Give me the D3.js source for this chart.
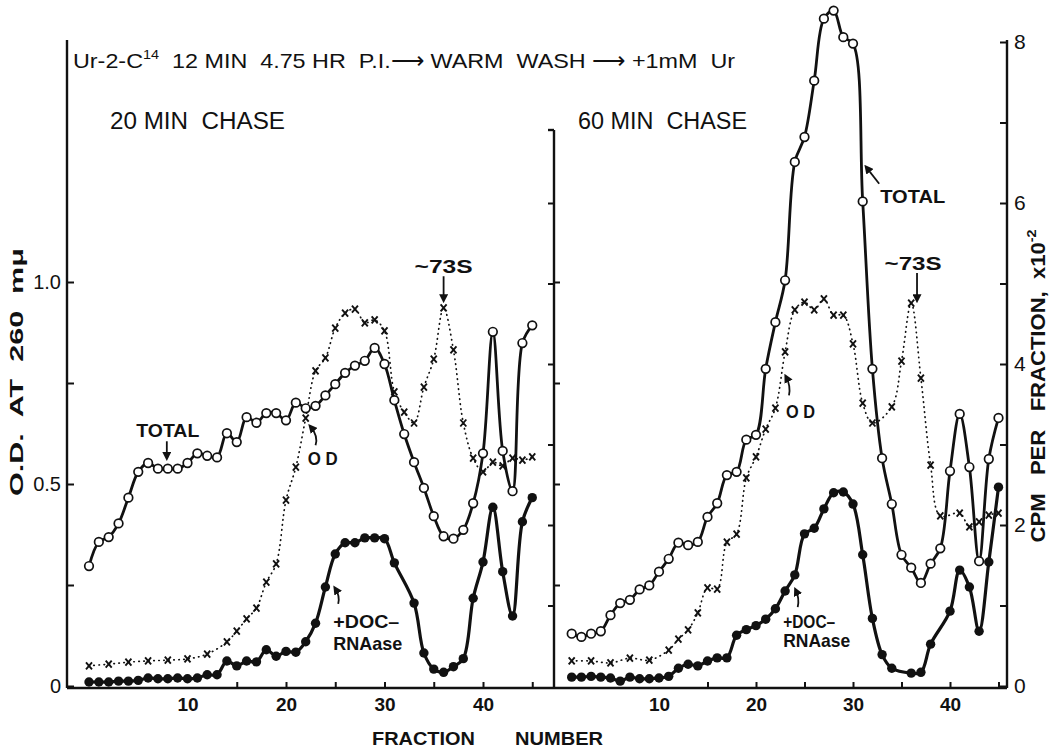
<!DOCTYPE html>
<html>
<head>
<meta charset="utf-8">
<script src="https://cdn.jsdelivr.net/npm/d3@7"></script>
<style>
body { margin: 0; background: #fff; }
svg text { font-family: "Liberation Sans", Arial, sans-serif; fill: #111; }
</style>
</head>
<body>
<svg id="chart" width="1056" height="750"></svg>
<script>
// ---- data (CPM x10^-2 for TOTAL / +DOC-RNAase, O.D. for OD) ----
var leftTotalFrac = [0,1,2,3,4,5,6,7,8,9,10,11,12,13,14,15,16,17,18,19,20,21,22,23,24,25,26,27,28,29,30,31,32,33,34,35,36,37,38,39,40,41,42,43,44,45];
var leftTotal = [1.49,1.79,1.85,2.02,2.34,2.66,2.77,2.70,2.70,2.70,2.77,2.89,2.86,2.84,3.14,3.03,3.34,3.27,3.39,3.39,3.30,3.52,3.45,3.48,3.61,3.75,3.89,3.98,4.04,4.20,4.00,3.55,3.13,2.78,2.46,2.11,1.86,1.83,1.94,2.27,2.89,4.40,2.92,2.42,4.26,4.48];

var leftOdFrac = [0,2,4,6,8,10,12,14,15,16,17,18,19,20,21,22,23,24,25,26,27,28,29,30,31,32,33,34,35,36,37,38,39,40,41,42,43,44,45];
var leftOd = [0.05,0.054,0.059,0.062,0.064,0.067,0.079,0.109,0.136,0.166,0.193,0.257,0.302,0.46,0.542,0.663,0.78,0.812,0.886,0.923,0.933,0.899,0.906,0.879,0.728,0.678,0.651,0.74,0.809,0.936,0.832,0.651,0.564,0.53,0.554,0.545,0.564,0.559,0.567];

var leftDocFrac = [0,1,2,3,4,5,6,7,8,9,10,11,12,13,14,15,16,17,18,19,20,21,22,23,24,25,26,27,28,29,30,31,33,34,35,36,37,38,39,40,41,42,43,44,45];
var leftDoc = [0.05,0.05,0.05,0.06,0.06,0.07,0.10,0.09,0.09,0.10,0.09,0.10,0.14,0.14,0.31,0.25,0.31,0.30,0.45,0.37,0.43,0.42,0.55,0.78,1.23,1.64,1.78,1.78,1.84,1.84,1.83,1.53,1.03,0.41,0.21,0.17,0.24,0.34,1.09,1.54,2.22,1.42,0.87,2.04,2.34];

var rightTotalFrac = [1,2,3,4,5,6,7,8,9,10,11,12,13,14,15,16,17,18,19,20,21,22,23,24,25,26,27,28,29,30,31,32,33,34,35,36,37,38,39,40,41,42,43,44,45];
var rightTotal = [0.65,0.61,0.65,0.68,0.88,1.03,1.07,1.20,1.25,1.42,1.58,1.78,1.75,1.79,2.10,2.27,2.62,2.66,3.06,3.12,3.94,4.52,5.04,6.51,6.82,7.52,8.29,8.39,8.06,7.98,6.02,3.94,2.83,2.26,1.63,1.47,1.28,1.52,1.71,2.67,3.38,2.72,1.55,2.82,3.33];

var rightOdFrac = [1,3,5,7,9,11,12,13,14,15,16,17,18,19,20,21,22,23,24,25,26,27,28,29,30,31,32,34,35,36,37,38,39,41,42,43,44,45];
var rightOd = [0.062,0.062,0.057,0.069,0.064,0.089,0.116,0.139,0.181,0.243,0.24,0.356,0.376,0.515,0.567,0.636,0.688,0.827,0.931,0.95,0.931,0.958,0.918,0.918,0.847,0.70,0.651,0.691,0.804,0.948,0.762,0.547,0.421,0.428,0.394,0.406,0.423,0.428];

var rightDocFrac = [1,2,3,4,5,6,7,8,9,10,11,12,13,14,15,16,17,18,19,20,21,22,23,24,25,26,27,28,29,30,31,32,33,34,36,37,38,40,41,42,43,44,45];
var rightDoc = [0.11,0.11,0.12,0.11,0.10,0.06,0.11,0.09,0.09,0.10,0.12,0.22,0.27,0.25,0.31,0.35,0.35,0.63,0.70,0.75,0.83,0.96,1.18,1.38,1.89,1.96,2.20,2.40,2.41,2.26,1.63,0.84,0.39,0.22,0.16,0.17,0.52,0.93,1.44,1.23,0.68,1.54,2.47];

var odTicks = [0, 0.25, 0.5, 0.75, 1];
var cpmTicks = [0, 1, 2, 3, 4, 5, 6, 7, 8];
var fracTicks = [15, 20, 25, 30, 35, 40, 45];
var fracLabels = [10, 20, 30, 40];

function zip(fr, vals) { return fr.map(function(f, i) { return { f: f, v: vals[i] }; }); }

var svg = d3.select("#chart");

// shared vertical scales: CPM on right axis, O.D. on left axis
var yCpm = d3.scaleLinear().domain([0, 8]).range([686, 42]);
var yOd = d3.scaleLinear().domain([0, 1]).range([686, 282]);
var xL = d3.scaleLinear().domain([0, 45]).range([89, 89 + 45 * 9.85]);
var xR = d3.scaleLinear().domain([0, 45]).range([562, 562 + 45 * 9.7]);

var axisY = 688, leftX = 67, midX = 554, rightX = 1007;

// frame
var frame = svg.append("g").attr("stroke", "#111").attr("stroke-width", 2.4).attr("fill", "none");
frame.append("line").attr("x1", leftX).attr("x2", leftX).attr("y1", 40).attr("y2", axisY);
frame.append("line").attr("x1", leftX).attr("x2", rightX).attr("y1", axisY).attr("y2", axisY);
frame.append("line").attr("x1", midX).attr("x2", midX).attr("y1", 130).attr("y2", axisY);
frame.append("line").attr("x1", midX - 6).attr("x2", midX).attr("y1", 130).attr("y2", 130);
frame.append("line").attr("x1", rightX).attr("x2", rightX).attr("y1", 40).attr("y2", axisY);

function styleAxis(g, fs, weight) {
  g.select(".domain").remove();
  g.selectAll(".tick line").attr("stroke", "#111").attr("stroke-width", 2);
  g.selectAll(".tick text").attr("font-size", fs).attr("font-weight", weight || "normal")
    .attr("fill", "#111").style("font-family", "'Liberation Sans', Arial, sans-serif");
}

// left O.D. axis
svg.append("g").attr("transform", "translate(" + leftX + ",0)")
  .call(d3.axisLeft(yOd).tickValues(odTicks).tickSize(-7).tickPadding(6)
    .tickFormat(function(d) { return d === 0 ? "0" : d === 0.5 ? "0.5" : d === 1 ? "1.0" : ""; }))
  .call(styleAxis, 20);

// right CPM axis
svg.append("g").attr("transform", "translate(" + rightX + ",0)")
  .call(d3.axisRight(yCpm).tickValues(cpmTicks).tickSize(-7).tickPadding(7)
    .tickFormat(function(d) { return d % 2 === 0 ? d : ""; }))
  .call(styleAxis, 21);

// divider ticks: CPM to the left, O.D. to the right
svg.append("g").attr("transform", "translate(" + midX + ",0)")
  .call(d3.axisLeft(yCpm).tickValues([1, 2, 3, 4, 5, 6]).tickSize(6).tickFormat(""))
  .call(styleAxis, 10);
svg.append("g").attr("transform", "translate(" + midX + ",0)")
  .call(d3.axisRight(yOd).tickValues([0.25, 0.5, 0.75, 1]).tickSize(6).tickFormat(""))
  .call(styleAxis, 10);

// bottom axes
[xL, xR].forEach(function(x) {
  svg.append("g").attr("transform", "translate(0," + axisY + ")")
    .call(d3.axisBottom(x).tickValues(fracTicks).tickSize(-6).tickFormat(""))
    .call(styleAxis, 10);
  svg.append("g").attr("transform", "translate(0," + axisY + ")")
    .call(d3.axisBottom(x).tickValues(fracLabels).tickSize(0).tickPadding(10))
    .call(styleAxis, 19, "bold");
});

// series
function drawPanel(x, total, odData, doc) {
  var g = svg.append("g");
  var lineC = d3.line().x(function(d) { return x(d.f); }).y(function(d) { return yCpm(d.v); })
    .curve(d3.curveCatmullRom.alpha(0.5));
  var lineO = d3.line().x(function(d) { return x(d.f); }).y(function(d) { return yOd(d.v); })
    .curve(d3.curveCatmullRom.alpha(0.5));

  g.append("path").datum(odData).attr("d", lineO).attr("fill", "none").attr("stroke", "#111")
    .attr("stroke-width", 1.7).attr("stroke-dasharray", "0.5 4.5").attr("stroke-linecap", "round");
  g.append("path").datum(total).attr("d", lineC).attr("fill", "none").attr("stroke", "#111")
    .attr("stroke-width", 2.8).attr("stroke-linejoin", "round");
  g.append("path").datum(doc).attr("d", lineC).attr("fill", "none").attr("stroke", "#111")
    .attr("stroke-width", 3.2).attr("stroke-linejoin", "round");

  g.selectAll(".xm").data(odData).enter().append("path").attr("class", "xm")
    .attr("transform", function(d) { return "translate(" + x(d.f) + "," + yOd(d.v) + ")"; })
    .attr("d", "M-3,-3.5L3,3.5M-3,3.5L3,-3.5").attr("stroke", "#111").attr("stroke-width", 1.9);
  g.selectAll(".oc").data(total).enter().append("circle").attr("class", "oc")
    .attr("cx", function(d) { return x(d.f); }).attr("cy", function(d) { return yCpm(d.v); })
    .attr("r", 4.3).attr("fill", "#fff").attr("stroke", "#111").attr("stroke-width", 1.7);
  g.selectAll(".fc").data(doc).enter().append("circle").attr("class", "fc")
    .attr("cx", function(d) { return x(d.f); }).attr("cy", function(d) { return yCpm(d.v); })
    .attr("r", 4.7).attr("fill", "#111");
}
drawPanel(xL, zip(leftTotalFrac, leftTotal), zip(leftOdFrac, leftOd), zip(leftDocFrac, leftDoc));
drawPanel(xR, zip(rightTotalFrac, rightTotal), zip(rightOdFrac, rightOd), zip(rightDocFrac, rightDoc));

// annotations (positions in fraction / CPM units)
svg.append("defs").append("marker").attr("id", "ah").attr("viewBox", "0 0 10 10")
  .attr("refX", 6).attr("refY", 5).attr("markerWidth", 5).attr("markerHeight", 5)
  .attr("orient", "auto").append("path").attr("d", "M0,0L10,5L0,10z").attr("fill", "#111");

function label(x, f, v, txt, anchor, len, fs) {
  var t = svg.append("text").attr("x", x(f)).attr("y", yCpm(v)).attr("font-size", fs || 19)
    .attr("font-weight", "bold").attr("text-anchor", anchor || "start").text(txt);
  if (len) t.attr("textLength", len).attr("lengthAdjust", "spacingAndGlyphs");
}
function arrow(x, f1, v1, f2, v2, bend) {
  var x1 = x(f1), y1 = yCpm(v1), x2 = x(f2), y2 = yCpm(v2);
  var d = bend ? "M" + x1 + "," + y1 + "Q" + (x1 + bend) + "," + ((y1 + y2) / 2) + " " + x2 + "," + y2
               : "M" + x1 + "," + y1 + "L" + x2 + "," + y2;
  svg.append("path").attr("d", d).attr("fill", "none").attr("stroke", "#111")
    .attr("stroke-width", 1.8).attr("marker-end", "url(#ah)");
}

label(xL, 8.0, 3.09, "TOTAL", "middle", 63);
arrow(xL, 7.9, 3.04, 7.9, 2.84);
label(xL, 22.2, 2.75, "O D", "start", 30);
arrow(xL, 23.0, 2.99, 22.5, 3.22, 3);
label(xL, 24.8, 0.72, "+DOC\u2013", "start", 66);
label(xL, 24.8, 0.45, "RNAase", "start", 69);
arrow(xL, 25.3, 1.02, 25.0, 1.21, 2);
label(xL, 36.0, 5.13, "~73S", "middle", 58);
arrow(xL, 36.0, 5.09, 36.0, 4.80);

label(xR, 32.8, 6.0, "TOTAL", "start", 65);
arrow(xR, 32.7, 6.24, 31.4, 6.44);
label(xR, 36.2, 5.17, "~73S", "middle", 57);
arrow(xR, 36.6, 5.13, 36.6, 4.80);
label(xR, 23.1, 3.33, "O D", "start", 29);
arrow(xR, 23.4, 3.61, 23.1, 3.84, 2);
label(xR, 22.8, 0.72, "+DOC\u2013", "start", 52);
label(xR, 22.8, 0.48, "RNAase", "start", 67);
arrow(xR, 24.3, 0.98, 24.1, 1.19, 2);

// titles
var title = svg.append("text").attr("x", 73).attr("y", 68).attr("font-size", 21)
  .style("white-space", "pre").attr("textLength", 662).attr("lengthAdjust", "spacingAndGlyphs");
title.append("tspan").text("Ur-2-C");
title.append("tspan").attr("font-size", 13).attr("dy", -9).text("14");
title.append("tspan").attr("dy", 9).text("  12 MIN  4.75 HR  P.I.\u27F6 WARM  WASH \u27F6 +1mM  Ur");

svg.append("text").attr("x", 110).attr("y", 129).attr("font-size", 23)
  .attr("textLength", 175).attr("lengthAdjust", "spacingAndGlyphs").text("20 MIN  CHASE").style("white-space", "pre");
svg.append("text").attr("x", 578).attr("y", 129).attr("font-size", 23)
  .attr("textLength", 169).attr("lengthAdjust", "spacingAndGlyphs").text("60 MIN  CHASE").style("white-space", "pre");

// axis titles
svg.append("text").attr("transform", "translate(23,372) rotate(-90)").attr("text-anchor", "middle")
  .attr("font-size", 19).attr("font-weight", "bold").style("white-space", "pre")
  .attr("textLength", 248).attr("lengthAdjust", "spacingAndGlyphs").text("O.D.  AT  260  m\u03BC");

var rl = svg.append("text").attr("transform", "translate(1045,386) rotate(-90)").attr("text-anchor", "middle")
  .attr("font-size", 20).attr("font-weight", "bold").style("white-space", "pre")
  .attr("textLength", 313).attr("lengthAdjust", "spacingAndGlyphs");
rl.append("tspan").text("CPM   PER   FRACTION,  x10");
rl.append("tspan").attr("font-size", 13).attr("dy", -9).text("-2");

svg.append("text").attr("x", 372).attr("y", 745).attr("font-size", 18).attr("font-weight", "bold")
  .attr("textLength", 103).attr("lengthAdjust", "spacingAndGlyphs").text("FRACTION");
svg.append("text").attr("x", 515).attr("y", 745).attr("font-size", 18).attr("font-weight", "bold")
  .attr("textLength", 88).attr("lengthAdjust", "spacingAndGlyphs").text("NUMBER");
</script>
</body>
</html>
